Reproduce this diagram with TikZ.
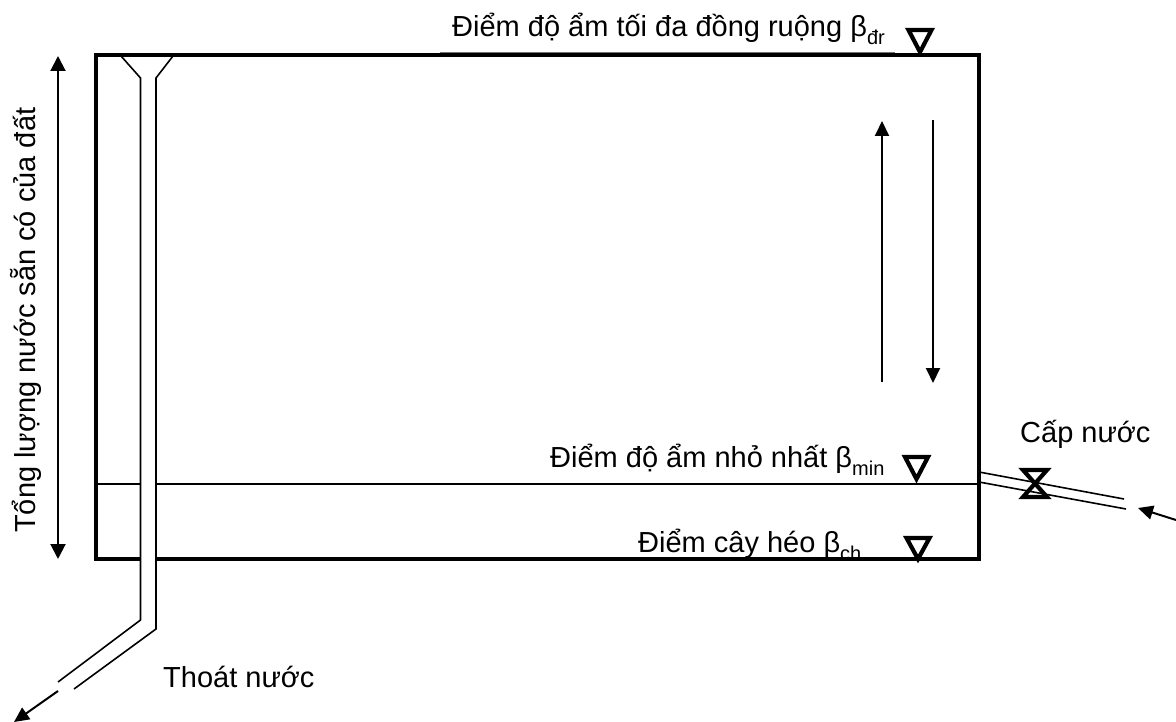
\documentclass[tikz,border=0pt]{standalone}
\usepackage{fontspec}
\setmainfont{Liberation Sans}
\usetikzlibrary{arrows.meta}
\newcommand{\mysub}[1]{\raisebox{-8pt}{\fontsize{20}{20}\selectfont #1}}
\tikzset{
  box/.style={line width=4pt},
  pipe/.style={line width=1.6pt},
  thin/.style={line width=1.6pt},
  marker/.style={line width=4.2pt, line join=miter},
  arr/.style={line width=2pt, -{Triangle[length=15pt,width=14pt]}},
  lbl/.style={anchor=base west, inner sep=0pt, font=\fontsize{29}{35}\selectfont},
  uline/.style={line width=1pt, draw=black!55},
}
\begin{document}
\begin{tikzpicture}[x=1pt,y=-1pt]
\useasboundingbox (0,0) rectangle (1176,722);
% box corners
\coordinate (TL) at (96,55);
\coordinate (TR) at (979,55);
\coordinate (BR) at (979,559);
\coordinate (BL) at (96,559);
% text underlines
\draw[uline] (440,53) -- (895,53);
\draw[uline] (548,483) -- (907,483);
% box
\draw[box] (140.5,559) -- (BL) -- (TL) -- (TR) -- (BR) -- (156,559);
% min level line
\draw[thin] (96,484) -- (140.5,484);
\draw[thin] (156,484) -- (979,484);
% drainage pipe
\coordinate (f1) at (121,56);
\coordinate (f2) at (173,56);
\draw[pipe] (f1) -- (140.5,78) -- (140.5,620) -- (58,682);
\draw[pipe] (f2) -- (156,78) -- (156,629) -- (74,689);
\coordinate (dA) at (58,691);
\coordinate (dB) at (14,722);
\draw[arr] (dA) -- (dB);
% supply pipe
\draw[pipe] (979,472) -- (1124,499);
\draw[pipe] (979,482) -- (1126,509);
\coordinate (sA) at (1176,520);
\coordinate (sB) at (1138,508);
\draw[arr] (sA) -- (sB);
% valve
\draw[marker] (1023,470) -- (1047,470) -- (1023,497) -- (1047,497) -- cycle;
% level markers
\draw[marker] (908.5,30) -- (931.5,30) -- (920,52) -- cycle;
\draw[marker] (905,457) -- (928,457) -- (916.5,479) -- cycle;
\draw[marker] (906.5,538) -- (929.5,538) -- (918,559) -- cycle;
% left double arrow
\coordinate (lT) at (58,56);
\coordinate (lB) at (58,559);
\draw[line width=2pt, {Triangle[length=15pt,width=15pt]}-{Triangle[length=15pt,width=15pt]}] (lT) -- (lB);
% right arrows
\coordinate (u1) at (882,382);
\coordinate (u2) at (882,121);
\coordinate (d1) at (933,120);
\coordinate (d2) at (933,383);
\draw[arr] (u1) -- (u2);
\draw[arr] (d1) -- (d2);
% labels
\node[lbl] (tmax) at (452,37) {Điểm độ ẩm tối đa đồng ruộng β\mysub{đr}};
\node[lbl] (tmin) at (550,467) {Điểm độ ẩm nhỏ nhất β\mysub{min}};
\node[lbl] (tch) at (638,552) {Điểm cây héo β\mysub{ch}};
\node[lbl] (tcap) at (1020,442) {Cấp nước};
\node[lbl] (tthoat) at (163,687) {Thoát nước};
\node[lbl, rotate=90] (ttong) at (35,533) {Tổng lượng nước sẵn có của đất};
\end{tikzpicture}
\end{document}
